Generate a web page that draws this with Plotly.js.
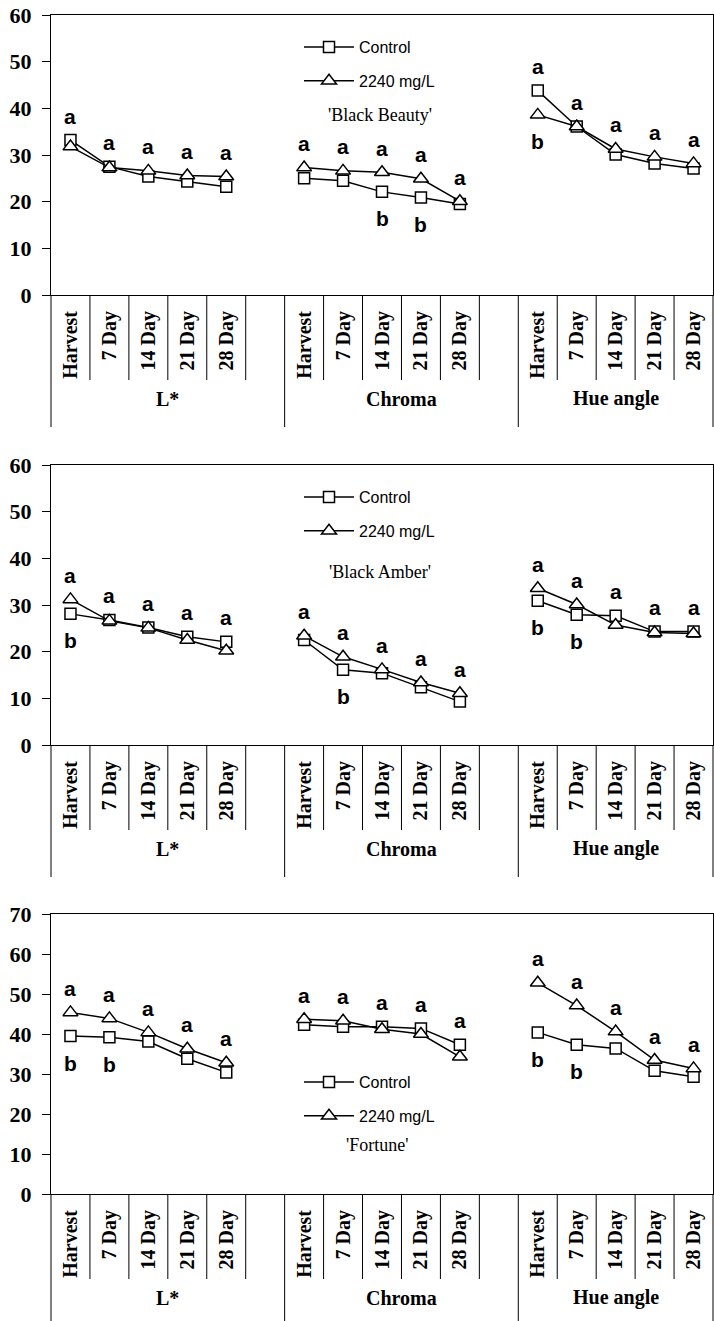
<!DOCTYPE html>
<html><head><meta charset="utf-8">
<script src="https://cdn.plot.ly/plotly-3.0.1.min.js"></script>
<style>body{margin:0;background:#fff}</style>
</head><body><div id="chart" style="width:714px;height:1321px"></div>
<script>
// ---- data ----
const days = ['Harvest', '7 Day', '14 Day', '21 Day', '28 Day'];
const groups = ['L*', 'Chroma', 'Hue angle'];
const seriesNames = ['Control', '2240 mg/L'];
const cultivars = ["'Black Beauty'", "'Black Amber'", "'Fortune'"];

// order: L* (5 days), Chroma (5 days), Hue angle (5 days)
const beautyControl = [33.2, 27.5, 25.4, 24.3, 23.2,  25.0, 24.5, 22.1, 20.9, 19.5,  43.8, 36.1, 30.1, 28.2, 27.1];
const beautyTreated = [31.8, 27.3, 26.6, 25.6, 25.4,  27.3, 26.6, 26.3, 24.9, 20.1,  38.6, 36.1, 31.3, 29.6, 28.2];
const amberControl  = [28.1, 26.8, 25.2, 23.2, 22.1,  22.5, 16.1, 15.4, 12.4, 9.3,   30.9, 27.9, 27.7, 24.3, 24.3];
const amberTreated  = [31.2, 26.6, 25.1, 22.5, 20.2,  23.4, 18.9, 16.2, 13.4, 11.1,  33.6, 30.1, 25.7, 24.1, 23.9];
const fortuneControl = [39.5, 39.2, 38.1, 33.8, 30.4,  42.3, 41.8, 41.8, 41.4, 37.3,  40.4, 37.3, 36.4, 30.8, 29.3];
const fortuneTreated = [45.4, 43.9, 40.4, 36.3, 32.8,  43.7, 43.3, 41.2, 40.0, 34.3,  52.8, 47.1, 40.6, 33.5, 31.4];

// significance letters (upper / lower)
const beautyUpper  = ['a','a','a','a','a', 'a','a','a','a','a', 'a','a','a','a','a'];
const beautyLower  = ['','','','','',      '','','b','b','',    'b','','','',''];
const amberUpper   = ['a','a','a','a','a', 'a','a','a','a','a', 'a','a','a','a','a'];
const amberLower   = ['b','','','','',     '','b','','','',     'b','b','','',''];
const fortuneUpper = ['a','a','a','a','a', 'a','a','a','a','a', 'a','a','a','a','a'];
const fortuneLower = ['b','b','','','',    '','','','','',      'b','b','','',''];

const yMax = [60, 60, 70];
const yTicks = [[0,10,20,30,40,50,60],[0,10,20,30,40,50,60],[0,10,20,30,40,50,60,70]];

// ---- build ----
const W = 714, H = 1321, L = 51, R = 1;
const panelTop = [15, 465, 914], panelH = 280;
const nSlots = groups.length * (days.length + 1) - 1; // 17

const xs = [], tickText = [];
groups.forEach((g, gi) => days.forEach((d, di) => { xs.push(gi * (days.length + 1) + di); tickText.push(d); }));

function withGaps(vals) {
  const out = [];
  vals.forEach((v, i) => { out.push(v); if (i % 5 === 4 && i < vals.length - 1) out.push(null); });
  return out;
}
const xsGap = withGaps(xs);

const panels = [
  {c: beautyControl, t: beautyTreated, up: beautyUpper, lo: beautyLower, name: cultivars[0]},
  {c: amberControl, t: amberTreated, up: amberUpper, lo: amberLower, name: cultivars[1]},
  {c: fortuneControl, t: fortuneTreated, up: fortuneUpper, lo: fortuneLower, name: cultivars[2]}
];
const labelPos = [
  {lx: 299, ly: 30, nx: 7.95, ny: 38.6},
  {lx: 299, ly: 480, nx: 7.95, ny: 37.1},
  {lx: 299, ly: 1065, nx: 7.87, ny: 12.25}
];

const serif = 'Liberation Serif, Times New Roman, serif';
const sans = 'Liberation Sans, Arial, sans-serif';

const traces = [], shapes = [], annotations = [];
const layout = {
  width: W, height: H, margin: {l: L, r: R, t: 0, b: 0},
  paper_bgcolor: '#fff', plot_bgcolor: '#fff', showlegend: true, hovermode: false
};

panels.forEach((p, i) => {
  const sfx = i === 0 ? '' : String(i + 1);
  const xa = 'x' + sfx, ya = 'y' + sfx, lg = 'legend' + sfx;
  const top = panelTop[i];
  const d0 = (H - top - panelH) / H, d1 = (H - top) / H;

  layout['xaxis' + sfx] = {
    domain: [0, 1], anchor: ya, range: [-0.5, nSlots - 0.5],
    tickvals: xs, ticktext: tickText, tickangle: -90, ticks: '', ticklabelstandoff: 7,
    tickfont: {family: serif, size: 20, color: '#000', weight: 'bold'},
    showline: true, linecolor: '#000', linewidth: 1, mirror: true,
    showgrid: false, zeroline: false, automargin: false, fixedrange: true
  };
  layout['yaxis' + sfx] = {
    domain: [d0, d1], anchor: xa, range: [0, yMax[i]], tickvals: yTicks[i],
    ticks: 'outside', ticklen: 8, tickcolor: '#000', ticklabelstandoff: 6,
    tickfont: {family: serif, size: 22, color: '#000', weight: 'bold'},
    showline: true, linecolor: '#000', linewidth: 1, mirror: true,
    showgrid: false, zeroline: false, automargin: false, fixedrange: true
  };
  layout[lg] = {
    x: (labelPos[i].lx - L) / (W - L - R), xanchor: 'left',
    y: (H - labelPos[i].ly) / H, yanchor: 'top', itemwidth: 50,
    bgcolor: 'rgba(0,0,0,0)', borderwidth: 0, tracegroupgap: 10,
    font: {family: sans, size: 16, color: '#000'}
  };

  [[p.c, 'square', 11], [p.t, 'triangle-up', 13]].forEach(([vals, sym, sz], si) => {
    traces.push({
      type: 'scatter', mode: 'lines+markers', x: xsGap, y: withGaps(vals),
      xaxis: xa, yaxis: ya, legend: lg, legendgroup: 'g' + i + si,
      name: seriesNames[si], connectgaps: false, cliponaxis: false,
      line: {color: '#000', width: 1.5},
      marker: {symbol: sym, size: sz, color: '#fff', line: {color: '#000', width: 1.5}}
    });
  });

  // significance letters
  xs.forEach((x, k) => {
    const hi = Math.max(p.c[k], p.t[k]), low = Math.min(p.c[k], p.t[k]);
    if (p.up[k]) annotations.push({xref: xa, yref: ya, x: x, y: hi, yshift: 24, text: p.up[k],
      showarrow: false, font: {family: sans, size: 21, color: '#000', weight: 'bold'}});
    if (p.lo[k]) annotations.push({xref: xa, yref: ya, x: x, y: low, yshift: -27, text: p.lo[k],
      showarrow: false, font: {family: sans, size: 21, color: '#000', weight: 'bold'}});
  });

  // cultivar name
  annotations.push({xref: xa, yref: ya, x: labelPos[i].nx, y: labelPos[i].ny, text: p.name,
    showarrow: false, font: {family: serif, size: 18, color: '#000'}});

  // group labels
  groups.forEach((g, gi) => {
    const first = gi * (days.length + 1), last = first + days.length - 1;
    const lo = first - 0.5, hiEdge = gi === groups.length - 1 ? last + 0.5 : last + 1.5;
    annotations.push({xref: xa, yref: ya + ' domain', x: (lo + hiEdge) / 2, y: -117 / panelH,
      text: g, showarrow: false, font: {family: serif, size: 20, color: '#000', weight: 'bold'}});
  });

  // separators between category labels
  const ySep = -85 / panelH, yGrp = -132 / panelH;
  for (let s = 0; s < nSlots - 1; s++) {
    const isGroup = (s % (days.length + 1)) === days.length;
    shapes.push({type: 'line', xref: xa, yref: ya + ' domain', x0: s + 0.5, x1: s + 0.5,
      y0: 0, y1: isGroup ? yGrp : ySep, line: {color: '#000', width: 1}});
  }
  [0, 1].forEach(e => shapes.push({type: 'line', xref: xa + ' domain', yref: ya + ' domain',
    x0: e, x1: e, y0: 0, y1: yGrp, line: {color: '#000', width: 1}}));
});

layout.shapes = shapes;
layout.annotations = annotations;
Plotly.newPlot('chart', traces, layout, {displayModeBar: false, staticPlot: true});
</script></body></html>
